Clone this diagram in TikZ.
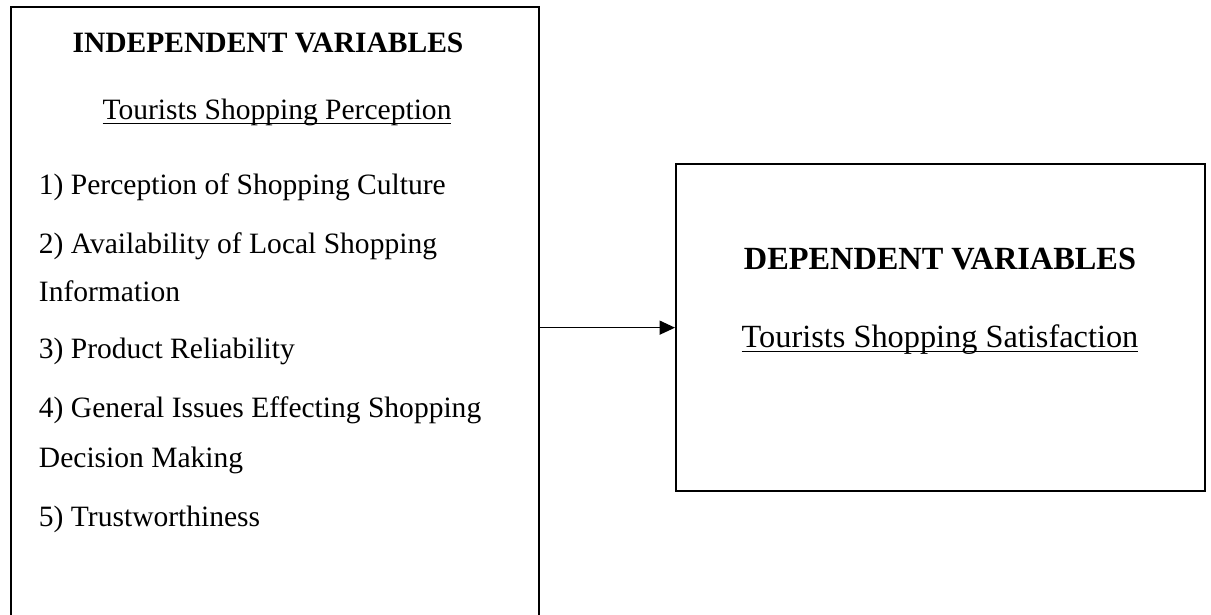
\documentclass[tikz,border=0pt]{standalone}
\usepackage{fontspec}
\setmainfont{Liberation Serif}
\usetikzlibrary{arrows.meta, positioning, calc}
\newcommand{\wordul}[1]{\setbox0\hbox{#1}\rlap{\rule[-3pt]{\wd0}{0.9pt}}\box0}

\begin{document}
\begin{tikzpicture}[x=0.025cm, y=-0.025cm,
  varbox/.style={draw, line width=1.6pt, rectangle, inner sep=0pt},
  head/.style={font=\fontsize{21}{25}\selectfont\bfseries, anchor=base},
  topic/.style={font=\fontsize{21}{25}\selectfont, anchor=base},
  item/.style={font=\fontsize{21}{25}\selectfont, anchor=base west}]
  \useasboundingbox (0,0) rectangle (1211,615);
  % Two boxes
  \node[varbox, anchor=north west, minimum width=13.2cm, minimum height=15.45cm] (indep) at (10,6) {};
  \node[varbox, anchor=north west, minimum width=13.225cm, minimum height=8.175cm] (dep) at (675,163) {};
  % Independent side
  \node[head] (indeptitle) at (268,53) {INDEPENDENT VARIABLES};
  \node[topic] (indeptopic) at (277,120) {\wordul{Tourists Shopping Perception}};
  \node[item] (item1) at (34,195) {1) Perception of Shopping Culture};
  \node[item] (item2) at (34,254) {2) Availability of Local Shopping};
  \node[item] (item2b) at (34,302) {Information};
  \node[item] (item3) at (34,359) {3) Product Reliability};
  \node[item] (item4) at (34,418) {4) General Issues Effecting Shopping};
  \node[item] (item4b) at (34,468) {Decision Making};
  \node[item] (item5) at (34,527) {5) Trustworthiness};
  % Dependent side (set a little larger)
  \node[head, font=\fontsize{23}{27}\selectfont\bfseries] (deptitle) at (940,270) {DEPENDENT VARIABLES};
  \node[topic, font=\fontsize{23}{27}\selectfont] (deptopic) at (940,348) {\wordul{Tourists Shopping Satisfaction}};
  % Link
  \draw[-{Triangle[length=11pt, width=10pt]}, line width=1pt] (dep.west -| indep.east) -- (dep.west);
\end{tikzpicture}
\end{document}
